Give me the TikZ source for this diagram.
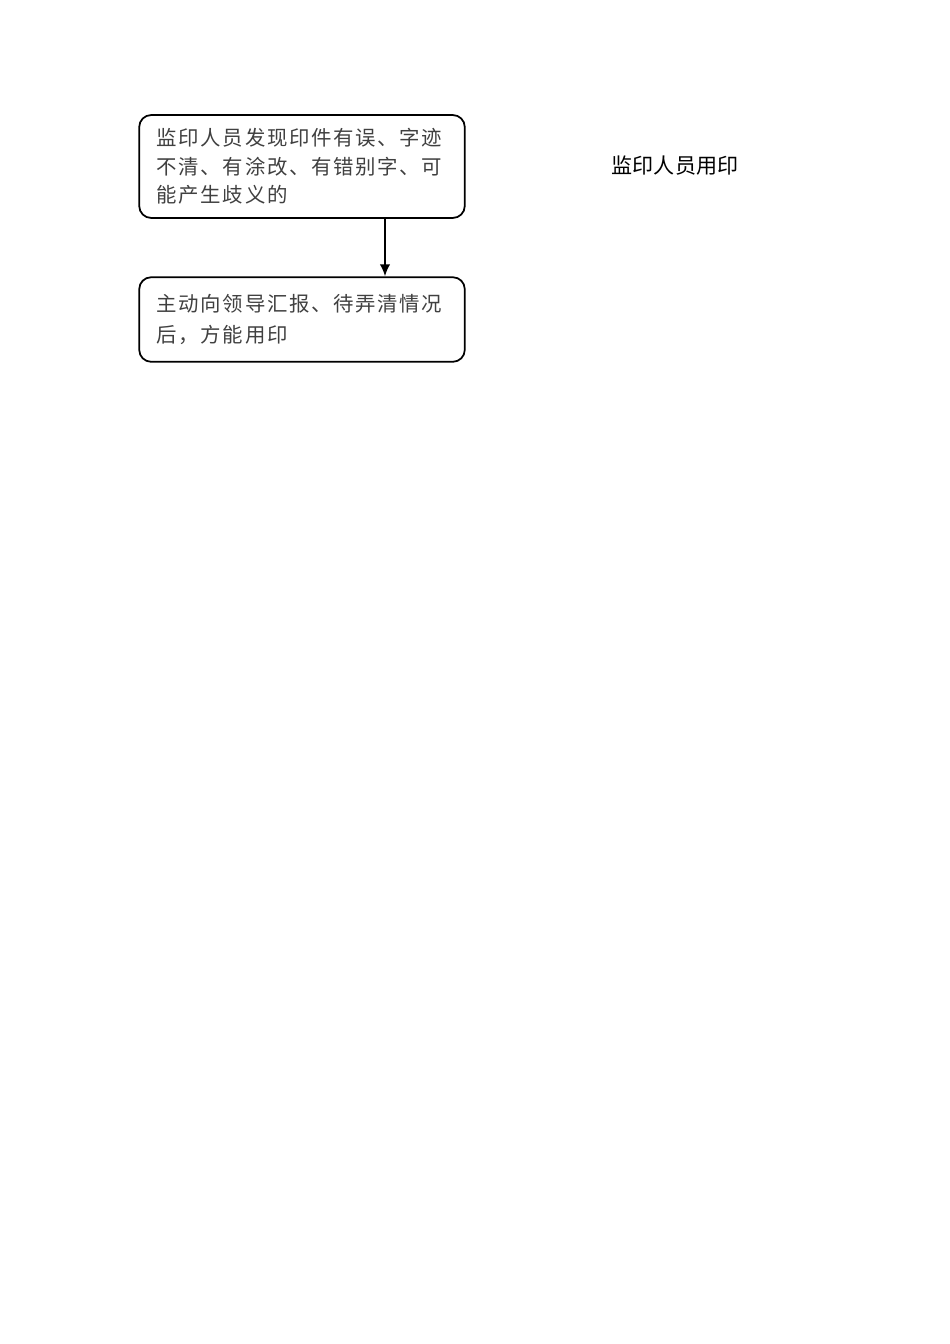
\documentclass[tikz,border=0pt]{standalone}
\usepackage{fontspec}
\newfontfamily\cjk[LetterSpace=8]{Noto Sans CJK SC}
\newfontfamily\cjkplain{Noto Sans CJK SC}
\usepackage{tikz}
\usepackage{xcolor}
\usetikzlibrary{arrows.meta,positioning}

\begin{document}
\begin{tikzpicture}
  [x=0.6266pt,y=-0.6266pt,
   box/.style={draw,line width=1.1pt,rounded corners=7.5pt,minimum width=204pt,
     text width=182pt,inner xsep=11pt,align=left,text=black!75},
   arrow/.style={line width=1.1pt,-{Latex[length=7.5pt,width=6.5pt]}}]
  \useasboundingbox (0,0) rectangle (950,1344);
  \node[box,minimum height=64.5pt,font={\cjk\fontsize{12.8}{17.9}\selectfont}] (warn) at (302,166.5)
    {监印人员发现印件有误、字迹\\不清、有涂改、有错别字、可\\能产生歧义的};
  \node[box,minimum height=53pt,font={\cjk\fontsize{12.8}{20}\selectfont}] (report) at (302,319.5)
    {主动向领导汇报、待弄清情况\\后，方能用印};
  \node[font={\cjkplain\fontsize{13.2}{16}\selectfont}] (title) at (675,166) {监印人员用印};
  \draw[arrow] ([xshift=52pt]warn.south) -- ([xshift=52pt]report.north);
\end{tikzpicture}
\end{document}
